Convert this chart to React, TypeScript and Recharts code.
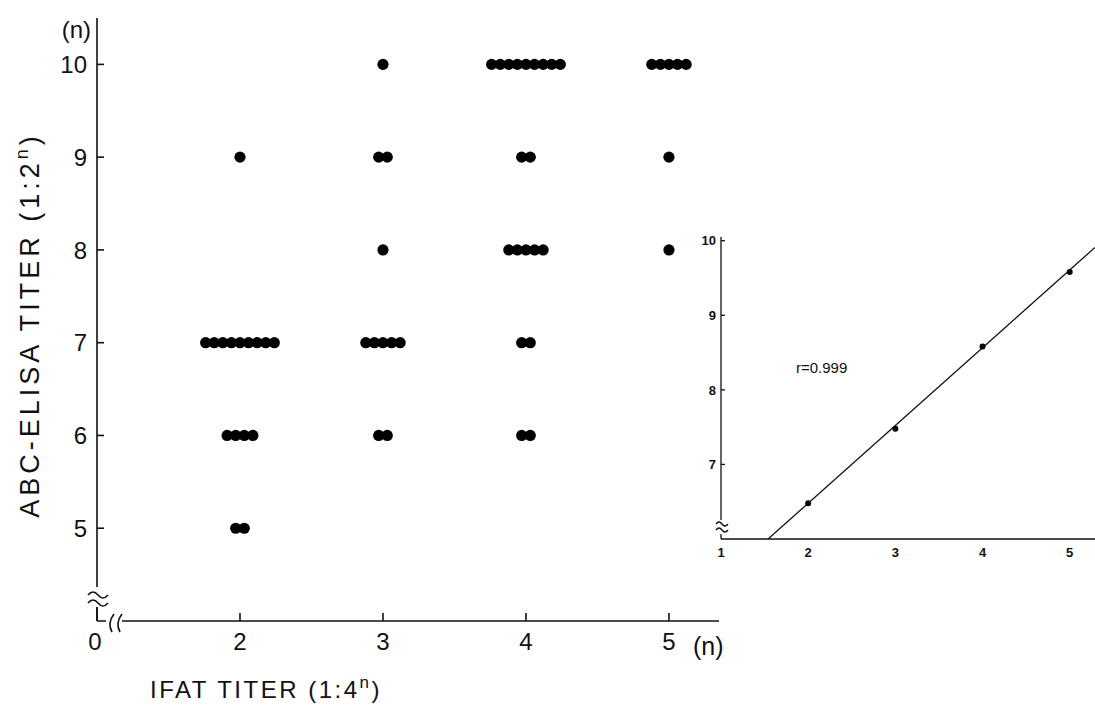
import React from 'react';
import { ScatterChart, Scatter, XAxis, YAxis, ReferenceDot } from 'recharts';

// IFAT titer (n, 1:4^n) on x, ABC-ELISA titer (n, 1:2^n) on y
const ifatLevels = [2, 3, 4, 5];
const elisaLevels = [10, 9, 8, 7, 6, 5];
// number of sera at each ELISA level (same order as elisaLevels)
const countsIfat2 = [0, 1, 0, 9, 4, 2];
const countsIfat3 = [1, 2, 1, 5, 2, 0];
const countsIfat4 = [9, 2, 5, 2, 2, 0];
const countsIfat5 = [5, 1, 1, 0, 0, 0];
const countsByIfat = [countsIfat2, countsIfat3, countsIfat4, countsIfat5];

const mainXTicks = [1, 2, 3, 4, 5];
const mainXTickLabels = ['0', '2', '3', '4', '5'];
const mainYTicks = [4, 5, 6, 7, 8, 9, 10];

// inset: mean ELISA titer per IFAT titer and the regression line
const insetX = [2, 3, 4, 5];
const insetY = [6.48, 7.48, 8.58, 9.58];
const fitX = [1.54, 5.29];
const fitY = [6, 9.91];
const insetXTicks = [1, 2, 3, 4, 5];
const insetYTicks = [6, 7, 8, 9, 10];

const FONT = '"Liberation Sans", Arial, sans-serif';
const INK = '#111';
const DOT_SPREAD = 0.06; // horizontal spacing of stacked sera, in x units

const dots: { x: number; y: number }[] = [];
countsByIfat.forEach((counts, i) => {
  counts.forEach((n, j) => {
    for (let k = 0; k < n; k++) {
      dots.push({ x: ifatLevels[i] + (k - (n - 1) / 2) * DOT_SPREAD, y: elisaLevels[j] });
    }
  });
});

const insetPoints = insetX.map((x, i) => ({ x, y: insetY[i] }));
const fitPoints = fitX.map((x, i) => ({ x, y: fitY[i] }));

const MainYTick = (props: any) => {
  const { x, y, payload } = props;
  if (payload.value === 4) {
    // axis break
    return (
      <g>
        <rect x={x - 4} y={y - 34} width={8} height={20} fill="#fff" />
        <path d={`M${x - 9} ${y - 26} q5 -6 10 0 t10 0`} stroke={INK} strokeWidth={1.6} fill="none" />
        <path d={`M${x - 9} ${y - 18} q5 -6 10 0 t10 0`} stroke={INK} strokeWidth={1.6} fill="none" />
        <line x1={x} x2={x} y1={y - 14} y2={y} stroke={INK} strokeWidth={1.6} />
      </g>
    );
  }
  return (
    <g>
      <line x1={x} x2={x + 7} y1={y} y2={y} stroke={INK} strokeWidth={1.6} />
      <text x={x - 10} y={y} dy="0.36em" textAnchor="end" fontSize={24} fontFamily={FONT} fill={INK}>
        {payload.value}
      </text>
    </g>
  );
};

const MainXTick = (props: any) => {
  const { x, y, payload, index } = props;
  const label = mainXTickLabels[index];
  if (payload.value === 1) {
    return (
      <g>
        <rect x={x + 9} y={y - 6} width={16} height={12} fill="#fff" />
        <path d={`M${x + 17} ${y - 7} q-7 9 -2 18`} stroke={INK} strokeWidth={1.6} fill="none" />
        <path d={`M${x + 25} ${y - 7} q-7 9 -2 18`} stroke={INK} strokeWidth={1.6} fill="none" />
        <text x={x - 2} y={y + 29} textAnchor="middle" fontSize={24} fontFamily={FONT} fill={INK}>
          {label}
        </text>
      </g>
    );
  }
  return (
    <g>
      <line x1={x} x2={x} y1={y} y2={y - 8} stroke={INK} strokeWidth={1.6} />
      <text x={x} y={y + 29} textAnchor="middle" fontSize={24} fontFamily={FONT} fill={INK}>
        {label}
      </text>
    </g>
  );
};

const MainYLabel = (props: any) => {
  const { viewBox } = props;
  const cx = 29;
  const cy = 325;
  return (
    <g>
      <text x={viewBox.x + viewBox.width - 6} y={viewBox.y + 20} textAnchor="end" fontSize={24} fontFamily={FONT} fill={INK}>
        (n)
      </text>
      <text
        x={cx}
        y={cy}
        transform={`rotate(-90 ${cx} ${cy})`}
        textAnchor="middle"
        dy="0.36em"
        fontSize={27}
        letterSpacing={4}
        fontFamily={FONT}
        fill={INK}
      >
        ABC-ELISA TITER (1:2<tspan dy={-11} fontSize={18}>n</tspan>
        <tspan dy={11}>)</tspan>
      </text>
    </g>
  );
};

const MainXLabel = (props: any) => {
  const { viewBox } = props;
  return (
    <g>
      <text x={viewBox.x + viewBox.width - 26} y={viewBox.y + 34} textAnchor="start" fontSize={25} fontFamily={FONT} fill={INK}>
        (n)
      </text>
      <text x={266} y={viewBox.y + 77} textAnchor="middle" fontSize={24} letterSpacing={2.5} fontFamily={FONT} fill={INK}>
        IFAT TITER (1:4<tspan dy={-10} fontSize={17}>n</tspan>
        <tspan dy={10}>)</tspan>
      </text>
    </g>
  );
};

const InsetYTick = (props: any) => {
  const { x, y, payload } = props;
  if (payload.value === 6) {
    return (
      <g>
        <rect x={x - 3} y={y - 19} width={6} height={14} fill="#fff" />
        <path d={`M${x - 5} ${y - 15} q3 -4 6 0 t6 0`} stroke={INK} strokeWidth={1.3} fill="none" />
        <path d={`M${x - 5} ${y - 9} q3 -4 6 0 t6 0`} stroke={INK} strokeWidth={1.3} fill="none" />
      </g>
    );
  }
  return (
    <g>
      <line x1={x} x2={x + 4} y1={y} y2={y} stroke={INK} strokeWidth={1.3} />
      <text x={x - 5} y={y} dy="0.36em" textAnchor="end" fontSize={13} fontWeight="bold" fontFamily={FONT} fill={INK}>
        {payload.value}
      </text>
    </g>
  );
};

const InsetXTick = (props: any) => {
  const { x, y, payload } = props;
  return (
    <text x={x} y={y + 18} textAnchor="middle" fontSize={13} fontWeight="bold" fontFamily={FONT} fill={INK}>
      {payload.value}
    </text>
  );
};

export default function App() {
  return (
    <div style={{ position: 'absolute', left: 0, top: 0, width: 1095, height: 705, background: '#fff' }}>
      <div style={{ position: 'absolute', left: 0, top: 0 }}>
        <ScatterChart width={740} height={705} margin={{ top: 18, right: 21, bottom: 0, left: 0 }}>
          <XAxis
            type="number"
            dataKey="x"
            domain={[1, 5.35]}
            ticks={mainXTicks}
            interval={0}
            allowDataOverflow
            height={84}
            tickSize={0}
            tickMargin={0}
            tickLine={false}
            axisLine={{ stroke: INK, strokeWidth: 1.6 }}
            tick={<MainXTick />}
            label={<MainXLabel />}
          />
          <YAxis
            type="number"
            dataKey="y"
            domain={[4, 10.5]}
            ticks={mainYTicks}
            interval={0}
            allowDataOverflow
            width={97}
            tickSize={0}
            tickMargin={0}
            tickLine={false}
            axisLine={{ stroke: INK, strokeWidth: 1.6 }}
            tick={<MainYTick />}
            label={<MainYLabel />}
          />
          <Scatter
            data={dots}
            isAnimationActive={false}
            shape={(p: any) => <circle cx={p.cx} cy={p.cy} r={5.6} fill="#000" />}
          />
        </ScatterChart>
      </div>
      <div style={{ position: 'absolute', left: 680, top: 220 }}>
        <ScatterChart width={415} height={360} margin={{ top: 17, right: 0, bottom: 0, left: 0 }}>
          <XAxis
            type="number"
            dataKey="x"
            domain={[1, 5.29]}
            ticks={insetXTicks}
            interval={0}
            allowDataOverflow
            height={41}
            tickSize={0}
            tickMargin={0}
            tickLine={false}
            axisLine={{ stroke: INK, strokeWidth: 1.3 }}
            tick={<InsetXTick />}
          />
          <YAxis
            type="number"
            dataKey="y"
            domain={[6, 10.05]}
            ticks={insetYTicks}
            interval={0}
            allowDataOverflow
            width={41}
            tickSize={0}
            tickMargin={0}
            tickLine={false}
            axisLine={{ stroke: INK, strokeWidth: 1.3 }}
            tick={<InsetYTick />}
          />
          <Scatter
            data={fitPoints}
            isAnimationActive={false}
            line={{ stroke: INK, strokeWidth: 1.3 }}
            shape={() => <g />}
          />
          <Scatter
            data={insetPoints}
            isAnimationActive={false}
            shape={(p: any) => <circle cx={p.cx} cy={p.cy} r={3} fill="#000" />}
          />
          <ReferenceDot
            x={1.86}
            y={8.3}
            r={0}
            fill="none"
            stroke="none"
            label={{ value: 'r=0.999', position: 'right', offset: 0, fontSize: 15, fontFamily: FONT, fill: INK }}
          />
        </ScatterChart>
      </div>
    </div>
  );
}
